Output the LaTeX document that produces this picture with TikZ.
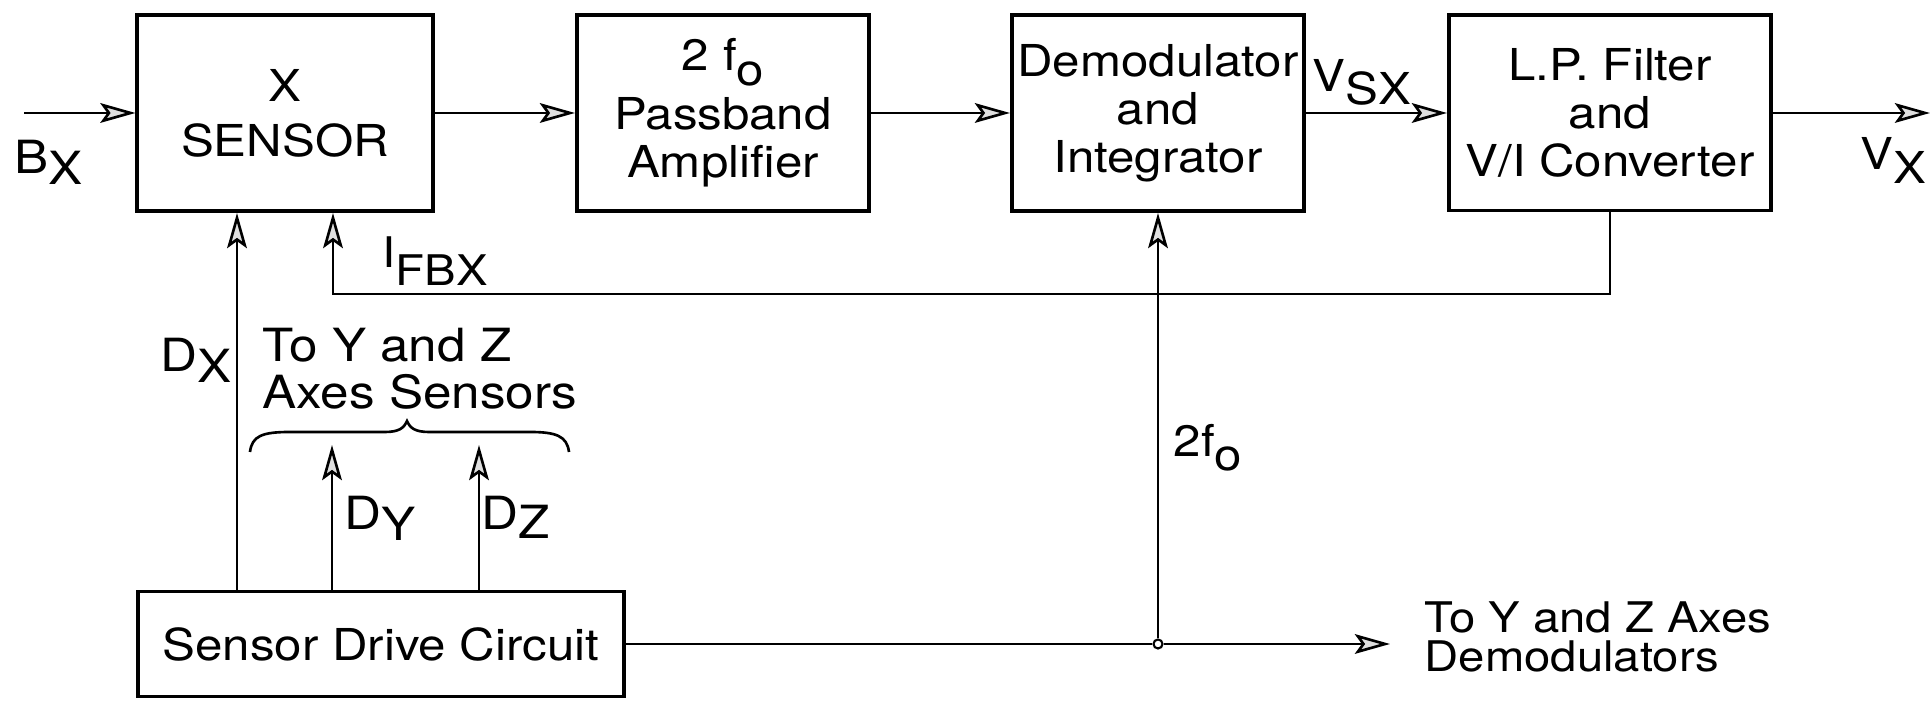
\documentclass[tikz,border=0pt]{standalone}
\usepackage{fontspec}
\setmainfont{TeX Gyre Heros}[FakeStretch=1.12]
\usetikzlibrary{arrows.meta}
\newcommand{\dn}[2][0.3em]{\raisebox{-#1}{#2}}

\begin{document}
\begin{tikzpicture}[x=0.01cm,y=-0.01cm,
  blk/.style={draw,line width=1.1pt,align=center,inner sep=0pt,
    font=\fontsize{12.5}{13.6}\selectfont},
  sig/.style={line width=0.75pt,-{Stealth[length=10pt,width=5.6pt,inset=2pt,fill=gray!25]}},
  wire/.style={line width=0.75pt},
  lbl/.style={inner sep=0pt,anchor=base west,font=\fontsize{13}{15}\selectfont}]
\useasboundingbox (0,0) rectangle (1932,701);
% blocks
\node[blk,minimum width=2.95cm,minimum height=1.96cm] (sensor) at (285,113) {X\\[2pt] SENSOR};
\node[blk,minimum width=2.92cm,minimum height=1.96cm] (amp) at (723,113) {2 f\dn[0.33em]{o}\\[3.2pt] Passband\\ Amplifier};
\node[blk,minimum width=2.92cm,minimum height=1.96cm] (demod) at (1158,113) {Demodulator\\ and\\ Integrator};
\node[blk,minimum width=3.22cm,minimum height=1.95cm] (filter) at (1610,113) {L.P. Filter\\ and\\ V/I Converter};
\node[blk,minimum width=4.86cm,minimum height=1.05cm,font=\fontsize{12.5}{14}\selectfont] (drive) at (381,644) {Sensor Drive Circuit};
\node[circle,draw,line width=0.6pt,fill=white,inner sep=0pt,minimum size=0.09cm] (jn) at (1158,644) {};
\coordinate (bin) at (24,113);
\coordinate (vout) at (1930,113);
\coordinate (fb) at (333,294);
\coordinate (dx) at (237,400);
\coordinate (dy) at (332,445);
\coordinate (dz) at (479,445);
\coordinate (tyz) at (1390,644);
% signal path
\draw[sig] (bin) -- (sensor);
\draw[sig] (sensor) -- (amp);
\draw[sig] (amp) -- (demod);
\draw[sig] (demod) -- (filter);
\draw[sig] (filter) -- (vout);
% feedback
\draw[sig] (filter.south) |- (fb) -- (sensor.south -| fb);
% drive outputs
\draw[sig] (drive.north -| dx) -- (sensor.south -| dx);
\draw[sig] (drive.north -| dy) -- (dy);
\draw[sig] (drive.north -| dz) -- (dz);
\draw[wire] (drive) -- (jn);
\draw[sig] (jn) -- (tyz);
\draw[sig] (jn) -- (demod);
% brace
\draw[wire] (250,452) .. controls (252,436) and (262,432) .. (290,432) -- (385,432)
  .. controls (399,432) and (404,428) .. (407,421) .. controls (410,428) and (415,432) .. (429,432)
  -- (530,432) .. controls (556,432) and (567,436) .. (569,452);
% labels
\node[lbl] (bx) at (14,174) {B\dn[0.24em]{X}};
\node[lbl,font=\fontsize{12.5}{14}\selectfont] (vsx) at (1312,92) {V\dn[0.28em]{SX}};
\node[lbl,font=\fontsize{12.5}{14}\selectfont] (vx) at (1860,170) {V\dn{X}};
\node[lbl,font=\fontsize{12}{13}\selectfont] (ifbx) at (382,268) {I\dn[0.42em]{FBX}};
\node[lbl] (dxl) at (160,372) {D\dn[0.22em]{X}};
\node[lbl] (dyl) at (344,530) {D\dn[0.22em]{Y}};
\node[lbl] (dzl) at (481,530) {D\dn[0.18em]{Z}};
\node[lbl,font=\fontsize{12.5}{14}\selectfont] (twofo) at (1173,457) {2f\dn{o}};
\node[inner sep=0pt,anchor=north west,align=left,font=\fontsize{13}{13.6}\selectfont] (toyzs) at (262,327) {To Y and Z\\ Axes Sensors};
\node[inner sep=0pt,anchor=north west,align=left,font=\fontsize{12}{11}\selectfont] (toyzd) at (1424,601) {To Y and Z Axes\\ Demodulators};
\end{tikzpicture}
\end{document}
